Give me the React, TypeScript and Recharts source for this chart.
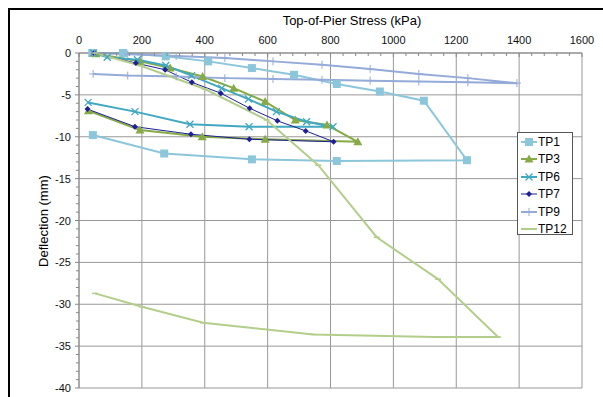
import React from 'react';
import { LineChart, Line, XAxis, YAxis, CartesianGrid } from 'recharts';

// stress (kPa) and deflection (mm) pairs, in test order (loading then unloading)
const TP1_X = [42, 140, 276, 411, 550, 684, 820, 957, 1097, 1234, 820, 550, 271, 44];
const TP1_Y = [0, 0, -0.4, -1.0, -1.8, -2.6, -3.7, -4.6, -5.7, -12.8, -12.9, -12.7, -12.0, -9.8];

const TP3_X = [54, 194, 290, 393, 492, 592, 688, 789, 887, 592, 392, 194, 30];
const TP3_Y = [-0.1, -1.0, -1.8, -2.8, -4.2, -5.8, -8.0, -8.6, -10.6, -10.3, -10.0, -9.2, -6.9];

const TP6_X = [46, 90, 186, 276, 358, 454, 539, 628, 724, 808, 541, 353, 178, 29];
const TP6_Y = [0, -0.5, -0.8, -1.5, -2.7, -4.2, -5.5, -7.0, -8.2, -8.8, -8.8, -8.5, -7.0, -5.9];

const TP7_X = [48, 181, 274, 359, 451, 543, 631, 721, 810, 542, 356, 178, 27];
const TP7_Y = [0, -1.2, -2.0, -3.5, -4.8, -6.6, -8.1, -9.3, -10.6, -10.3, -9.7, -8.8, -6.7];

const TP9_X = [50, 155, 309, 464, 617, 773, 926, 1081, 1237, 1393, 1237, 1081, 926, 773, 617, 464, 309, 155, 45];
const TP9_Y = [0, -0.15, -0.35, -0.6, -1.0, -1.4, -1.9, -2.5, -3.0, -3.6, -3.5, -3.4, -3.3, -3.2, -3.1, -3.0, -2.8, -2.7, -2.5];

const TP12_X = [52, 194, 400, 597, 761, 947, 1142, 1333, 1127, 745, 395, 200, 51];
const TP12_Y = [0, -1.5, -4.3, -8.0, -13.4, -22.0, -27.0, -33.9, -33.9, -33.6, -32.2, -30.3, -28.7];

const X_MAJOR = [0, 200, 400, 600, 800, 1000, 1200, 1400, 1600];
const Y_MAJOR = [0, -5, -10, -15, -20, -25, -30, -35, -40];
const X_TICKS = Array.from({ length: 41 }, (_, i) => i * 40);
const Y_TICKS = Array.from({ length: 41 }, (_, i) => -i);

const pairs = (xs, ys) => xs.map((x, i) => ({ x, y: ys[i] }));

const SERIES = [
  { name: 'TP1', data: pairs(TP1_X, TP1_Y), color: '#8CC6DB', width: 2, shape: 'square' },
  { name: 'TP3', data: pairs(TP3_X, TP3_Y), color: '#86AA45', width: 2, shape: 'triangle' },
  { name: 'TP6', data: pairs(TP6_X, TP6_Y), color: '#40A8C0', width: 2, shape: 'x' },
  { name: 'TP7', data: pairs(TP7_X, TP7_Y), color: '#1F1F99', width: 1, shape: 'diamond' },
  { name: 'TP9', data: pairs(TP9_X, TP9_Y), color: '#94AAD8', width: 2, shape: 'plus' },
  { name: 'TP12', data: pairs(TP12_X, TP12_Y), color: '#B3CE8A', width: 2, shape: 'dash' },
];

const FONT = "'Liberation Sans', Arial, sans-serif";

function Marker({ shape, cx, cy, color }) {
  if (cx == null || cy == null) return null;
  switch (shape) {
    case 'square':
      return <rect x={cx - 4} y={cy - 4} width={8} height={8} fill={color} />;
    case 'triangle':
      return <polygon points={`${cx},${cy - 4.5} ${cx + 4.5},${cy + 3.5} ${cx - 4.5},${cy + 3.5}`} fill={color} />;
    case 'x':
      return (
        <g stroke={color} strokeWidth={1.3}>
          <line x1={cx - 3.5} y1={cy - 3.5} x2={cx + 3.5} y2={cy + 3.5} />
          <line x1={cx - 3.5} y1={cy + 3.5} x2={cx + 3.5} y2={cy - 3.5} />
        </g>
      );
    case 'diamond':
      return <polygon points={`${cx},${cy - 3} ${cx + 3},${cy} ${cx},${cy + 3} ${cx - 3},${cy}`} fill={color} />;
    case 'plus':
      return (
        <g stroke={color} strokeWidth={1}>
          <line x1={cx - 4} y1={cy} x2={cx + 4} y2={cy} />
          <line x1={cx} y1={cy - 4} x2={cx} y2={cy + 4} />
        </g>
      );
    case 'dash':
      return <line x1={cx - 3} y1={cy} x2={cx + 3} y2={cy} stroke={color} strokeWidth={1.5} />;
    default:
      return null;
  }
}

const XTick = ({ x, y, payload }) => {
  const major = payload.value % 200 === 0;
  return (
    <g>
      <line x1={x} y1={y} x2={x} y2={y + (major ? 4 : 3)} stroke="#888" />
      {major && (
        <text x={x} y={y - 9.5} textAnchor="middle" fontSize={11} fontFamily={FONT} fill="#111">
          {payload.value}
        </text>
      )}
    </g>
  );
};

const YTick = ({ x, y, payload }) => {
  const major = payload.value % 5 === 0;
  return (
    <g>
      <line x1={x - (major ? 4 : 3)} y1={y} x2={x} y2={y} stroke="#888" />
      {major && (
        <text x={x - 8} y={y + 4} textAnchor="end" fontSize={11} fontFamily={FONT} fill="#111">
          {payload.value}
        </text>
      )}
    </g>
  );
};

export default function App() {
  return (
    <div style={{
      position: 'fixed', top: 8, left: 8, width: 595, height: 389, overflow: 'hidden',
      borderTop: '2px solid #000', borderLeft: '2px solid #000', background: '#fff', fontFamily: FONT,
    }}>
      <div style={{ position: 'absolute', left: 267, top: 3, width: 150, textAlign: 'center', fontSize: 13, whiteSpace: 'nowrap' }}>
        Top-of-Pier Stress (kPa)
      </div>
      <div style={{
        position: 'absolute', left: 33, top: 211, fontSize: 13, whiteSpace: 'nowrap',
        transform: 'translate(-50%, -50%) rotate(-90deg)',
      }}>
        Deflection (mm)
      </div>

      <LineChart width={593} height={387} margin={{ top: 13, right: 21, bottom: 9, left: 0 }}>
        <CartesianGrid verticalValues={X_MAJOR} horizontalValues={Y_MAJOR} stroke="#999" />
        <XAxis
          type="number" dataKey="x" orientation="top" domain={[0, 1600]} ticks={X_TICKS} interval={0}
          height={30} tickSize={0} tickMargin={0} tickLine={false} tick={<XTick />} stroke="#888"
          allowDuplicatedCategory={false}
        />
        <YAxis
          type="number" dataKey="y" domain={[-40, 0]} ticks={Y_TICKS} interval={0}
          width={69} tickSize={0} tickMargin={0} tickLine={false} tick={<YTick />} stroke="#888"
        />
        {SERIES.map((s) => (
          <Line
            key={s.name}
            data={s.data}
            dataKey="y"
            name={s.name}
            type="linear"
            stroke={s.color}
            strokeWidth={s.width}
            isAnimationActive={false}
            dot={(p) => <Marker key={p.index} shape={s.shape} cx={p.cx} cy={p.cy} color={s.color} />}
            activeDot={false}
          />
        ))}
      </LineChart>

      <div style={{
        position: 'absolute', left: 507, top: 122, width: 51, height: 101,
        border: '1px solid #555', background: '#fff', padding: '0 0 0 3px', boxSizing: 'content-box',
      }}>
        {SERIES.map((s) => (
          <div key={s.name} style={{ display: 'flex', alignItems: 'center', height: 17.5, marginTop: s.name === 'TP1' ? 0 : 0 }}>
            <svg width={16} height={10} style={{ flexShrink: 0 }}>
              <line x1={0} y1={5} x2={16} y2={5} stroke={s.color} strokeWidth={s.width} />
              <Marker shape={s.shape === 'dash' ? 'none' : s.shape} cx={8} cy={5} color={s.color} />
            </svg>
            <span style={{ fontSize: 12, marginLeft: 1, lineHeight: '14px' }}>{s.name}</span>
          </div>
        ))}
      </div>
    </div>
  );
}
